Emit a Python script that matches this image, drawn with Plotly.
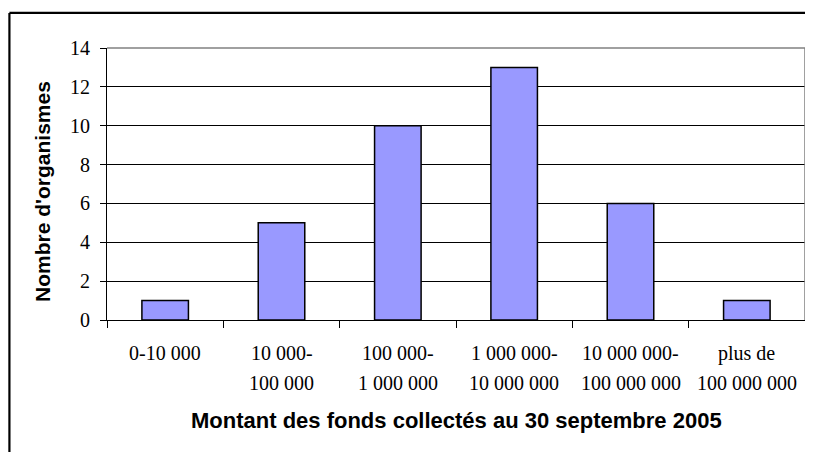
import plotly.graph_objects as go

categories = ["0-10 000", "10 000-100 000", "100 000-1 000 000", "1 000 000-10 000 000",
              "10 000 000-100 000 000", "plus de 100 000 000"]
values = [1, 5, 10, 13, 6, 1]
label_line1 = ["0-10 000", "10 000-", "100 000-", "1 000 000-", "10 000 000-", "plus de"]
label_line2 = ["", "100 000", "1 000 000", "10 000 000", "100 000 000", "100 000 000"]
y_ticks = [0, 2, 4, 6, 8, 10, 12, 14]
x_title = "Montant des fonds collectés au 30 septembre 2005"
y_title = "Nombre d'organismes"

SERIF = "Liberation Serif, Times New Roman, serif"
SANS = "Liberation Sans, Arial, sans-serif"

positions = list(range(len(categories)))

fig = go.Figure()
fig.add_trace(go.Bar(
    x=positions, y=values, width=0.4,
    marker=dict(color="#9999FF", line=dict(color="black", width=1.5)),
    hovertext=categories, showlegend=False,
))

annotations = []
for i, (l1, l2) in enumerate(zip(label_line1, label_line2)):
    annotations.append(dict(x=i, y=0, xref="x", yref="paper", text=l1, showarrow=False,
                            yshift=-33, yanchor="middle", xanchor="center",
                            font=dict(family=SERIF, size=20, color="black")))
    if l2:
        annotations.append(dict(x=i, y=0, xref="x", yref="paper", text=l2, showarrow=False,
                                yshift=-63, yanchor="middle", xanchor="center",
                                font=dict(family=SERIF, size=20, color="black")))

annotations.append(dict(x=0.5, y=0, xref="paper", yref="paper", text="<b>" + x_title + "</b>",
                        showarrow=False, yshift=-100, yanchor="middle", xanchor="center",
                        font=dict(family=SANS, size=22, color="black")))
annotations.append(dict(x=0, y=0, xref="paper", yref="paper", text="<b>" + y_title + "</b>",
                        showarrow=False, xshift=-65, yshift=128, textangle=-90,
                        yanchor="middle", xanchor="center",
                        font=dict(family=SANS, size=21, color="black")))

shapes = [
    dict(type="line", xref="paper", yref="paper", x0=0, x1=1, y0=1, y1=1,
         line=dict(color="#808080", width=1.5)),
    dict(type="line", xref="paper", yref="paper", x0=1, x1=1, y0=0, y1=1,
         line=dict(color="#808080", width=1.5)),
    dict(type="line", xref="paper", yref="paper", x0=-0.1398, x1=1.2, y0=1.129, y1=1.129,
         line=dict(color="black", width=2.2)),
    dict(type="line", xref="paper", yref="paper", x0=-0.1398, x1=-0.1398, y0=1.129, y1=-0.6,
         line=dict(color="black", width=2.2)),
]

# page body has an 8px margin, so the figure is sized/shifted to compensate
fig.update_layout(
    template="none",
    width=805, height=444,
    margin=dict(l=99, r=8, t=40, b=132, autoexpand=False),
    paper_bgcolor="white", plot_bgcolor="white",
    bargap=0.6,
    annotations=annotations,
    shapes=shapes,
    xaxis=dict(range=[-0.5, 5.5], tickmode="array", automargin=False,
               tickvals=[p - 0.5 for p in positions] + [positions[-1] + 0.5],
               ticks="outside", ticklen=7, tickcolor="black", tickwidth=1,
               showticklabels=False, showgrid=False, zeroline=False,
               showline=True, linecolor="black", linewidth=1),
    yaxis=dict(range=[0, 14], tickmode="array", tickvals=y_ticks, automargin=False,
               ticks="outside", ticklen=6, tickcolor="black", tickwidth=1,
               tickfont=dict(family=SERIF, size=20, color="black"),
               showgrid=True, gridcolor="black", gridwidth=1, zeroline=False,
               showline=True, linecolor="black", linewidth=1,
               ticklabelstandoff=6),
)

fig.write_html("out.html")
